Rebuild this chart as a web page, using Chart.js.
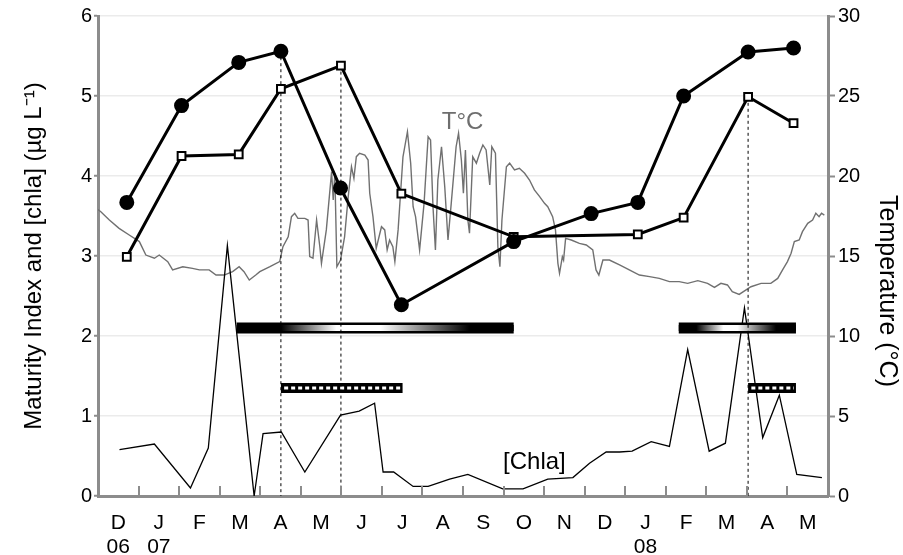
<!DOCTYPE html>
<html>
<head>
<meta charset="utf-8">
<script src="https://cdn.jsdelivr.net/npm/chart.js@4.4.1/dist/chart.umd.min.js"></script>
<style>
  body { margin: 0; background: #fff; }
  #wrap { width: 903px; height: 555px; }
</style>
</head>
<body>
<div id="wrap"><canvas id="myChart"></canvas></div>
<script>
// x values are months counted from 1 Dec 2006
const monthLabels = ['D', 'J', 'F', 'M', 'A', 'M', 'J', 'J', 'A', 'S', 'O', 'N', 'D', 'J', 'F', 'M', 'A', 'M'];
const yearLabels = ['06', '07', '', '', '', '', '', '', '', '', '', '', '', '08', '', '', '', ''];

const circleX = [0.71, 2.06, 3.47, 4.51, 5.98, 7.48, 10.25, 12.16, 13.31, 14.44, 16.03, 17.15];
const circleY = [3.67, 4.88, 5.42, 5.56, 3.85, 2.39, 3.18, 3.53, 3.67, 5.00, 5.55, 5.60];

const squareX = [0.71, 2.06, 3.47, 4.51, 5.99, 7.48, 10.25, 13.31, 14.44, 16.03, 17.15];
const squareY = [2.99, 4.25, 4.27, 5.09, 5.38, 3.78, 3.24, 3.27, 3.48, 4.99, 4.66];

const chlaX = [0.53, 1.39, 2.28, 2.72, 3.19, 3.85, 4.07, 4.52, 5.10, 5.98, 6.44, 6.82, 7.03, 7.29, 7.77, 8.14,
  8.67, 9.12, 9.98, 10.48, 11.09, 11.71, 12.12, 12.53, 12.86, 13.17, 13.64, 14.09, 14.54, 15.07, 15.47, 15.94,
  16.39, 16.80, 17.23, 17.85];
const chlaY = [0.58, 0.65, 0.10, 0.60, 3.13, 0.00, 0.78, 0.80, 0.30, 1.01, 1.06, 1.16, 0.30, 0.30, 0.12, 0.12,
  0.21, 0.27, 0.09, 0.09, 0.21, 0.23, 0.41, 0.55, 0.55, 0.56, 0.68, 0.62, 1.83, 0.56, 0.66, 2.35,
  0.73, 1.26, 0.27, 0.23];

const tempX = [0.00, 0.07, 0.28, 0.52, 0.77, 1.02, 1.18, 1.39, 1.51, 1.72, 1.84, 2.09, 2.33, 2.50, 2.74, 2.91,
  3.11, 3.32, 3.48, 3.60, 3.73, 3.89, 3.99, 4.24, 4.48, 4.56, 4.69, 4.77, 4.85, 4.93, 5.10, 5.18,
  5.22, 5.30, 5.39, 5.47, 5.51, 5.63, 5.76, 5.80, 5.84, 5.89, 5.98, 6.08, 6.17, 6.25, 6.31, 6.37,
  6.45, 6.58, 6.66, 6.70, 6.78, 6.86, 6.99, 7.07, 7.13, 7.19, 7.27, 7.32, 7.40, 7.52, 7.63, 7.71,
  7.77, 7.83, 7.93, 8.04, 8.14, 8.20, 8.26, 8.32, 8.38, 8.47, 8.55, 8.63, 8.71, 8.83, 8.89, 8.96,
  9.01, 9.06, 9.12, 9.16, 9.24, 9.33, 9.41, 9.49, 9.57, 9.66, 9.71, 9.80, 9.86, 9.91, 9.96, 10.07,
  10.15, 10.27, 10.39, 10.52, 10.64, 10.76, 10.89, 11.01, 11.09, 11.21, 11.28, 11.34, 11.38, 11.45, 11.48, 11.53,
  11.67, 11.87, 12.04, 12.20, 12.28, 12.35, 12.45, 12.61, 12.86, 13.10, 13.35, 13.60, 13.84, 14.09, 14.33, 14.54,
  14.79, 15.03, 15.20, 15.36, 15.52, 15.64, 15.81, 15.98, 16.10, 16.35, 16.59, 16.76, 16.88, 17.00, 17.09, 17.17,
  17.29, 17.37, 17.50, 17.62, 17.70, 17.78, 17.84, 17.91];
const tempY = [17.90, 17.77, 17.25, 16.73, 16.31, 15.90, 15.06, 14.86, 15.06, 14.65, 14.13, 14.33, 14.23, 14.13, 14.13, 13.81,
  13.81, 14.02, 14.33, 14.02, 13.50, 13.81, 14.02, 14.33, 14.65, 15.58, 16.20, 17.46, 17.67, 17.35, 17.35, 17.25,
  14.96, 14.86, 17.25, 15.58, 14.54, 16.63, 20.27, 18.50, 20.17, 14.33, 14.75, 16.20, 18.71, 20.58, 19.85, 21.21,
  21.42, 21.31, 21.00, 18.92, 17.46, 15.48, 16.83, 16.63, 15.38, 16.00, 15.58, 14.65, 16.63, 21.20, 22.77, 20.80,
  18.08, 17.46, 15.38, 18.29, 22.46, 22.25, 18.08, 15.38, 19.75, 21.83, 19.33, 16.00, 18.29, 21.83, 22.67, 21.00,
  18.92, 21.63, 17.25, 16.42, 21.20, 20.80, 21.42, 21.94, 21.63, 19.44, 21.83, 21.42, 15.58, 14.33, 17.25, 20.58,
  20.80, 20.38, 20.48, 20.17, 19.75, 19.13, 18.71, 18.29, 18.08, 17.46, 16.63, 14.54, 13.92, 14.96, 14.75, 16.10,
  16.00, 15.79, 15.69, 15.38, 14.13, 13.81, 14.75, 14.75, 14.44, 14.13, 13.81, 13.71, 13.60, 13.40, 13.40, 13.29,
  13.46, 13.29, 13.04, 13.29, 13.19, 12.77, 12.60, 12.88, 13.08, 13.29, 13.29, 13.60, 14.13, 14.65, 15.17, 15.90,
  16.00, 16.52, 17.04, 17.25, 17.67, 17.46, 17.67, 17.56];

// horizontal period bars
const shadedStart = [3.42, 14.32];
const shadedEnd = [10.25, 17.21];
const shadedLevel = 2.1;
const dottedStart = [4.51, 16.03];
const dottedEnd = [7.51, 17.21];
const dottedLevel = 1.35;

// vertical dashed markers
const dashX = [4.51, 5.99, 16.03];
const dashTop = [5.56, 5.38, 4.99];

function pts(xs, ys) {
  return xs.map((x, i) => ({ x: x, y: ys[i] }));
}

function tubeGradient(ctx, a, b, stops) {
  const chart = ctx.chart;
  if (!chart.chartArea) return '#000';
  const xs = chart.scales.x;
  const g = chart.ctx.createLinearGradient(xs.getPixelForValue(a), 0, xs.getPixelForValue(b), 0);
  stops.forEach(s => g.addColorStop(s[0], s[1]));
  return g;
}
const stops1 = [[0, '#000'], [0.16, '#000'], [0.36, '#fff'], [0.52, '#fff'], [0.84, '#000'], [1, '#000']];
const stops2 = [[0, '#000'], [0.15, '#000'], [0.38, '#fff'], [0.5, '#fff'], [0.83, '#000'], [1, '#000']];

const datasets = [];
datasets.push({
  data: pts(circleX, circleY), borderColor: '#000', backgroundColor: '#000', borderWidth: 3,
  pointRadius: 6, pointStyle: 'circle', yAxisID: 'y', order: 0
});
datasets.push({
  data: pts(squareX, squareY), borderColor: '#000', backgroundColor: '#fff', borderWidth: 3,
  pointRadius: 5.5, pointBorderWidth: 2, pointStyle: 'rect', yAxisID: 'y', order: 1
});
dashX.forEach((x, i) => {
  datasets.push({
    data: [{ x: x, y: dashTop[i] }, { x: x, y: 0 }], borderColor: '#000', borderWidth: 1,
    borderDash: [3, 3], pointRadius: 0, yAxisID: 'y', order: 2
  });
});
shadedStart.forEach((s, i) => {
  datasets.push({
    data: [{ x: s, y: shadedLevel }, { x: shadedEnd[i], y: shadedLevel }], borderColor: '#000',
    borderWidth: 11, borderCapStyle: 'butt', pointRadius: 0, yAxisID: 'y', order: 4
  });
  datasets.push({
    data: [{ x: s, y: shadedLevel }, { x: shadedEnd[i], y: shadedLevel }],
    borderColor: (ctx) => tubeGradient(ctx, s, shadedEnd[i], i === 0 ? stops1 : stops2),
    borderWidth: 6, borderCapStyle: 'butt', pointRadius: 0, yAxisID: 'y', order: 3
  });
});
dottedStart.forEach((s, i) => {
  datasets.push({
    data: [{ x: s, y: dottedLevel }, { x: dottedEnd[i], y: dottedLevel }], borderColor: '#000',
    borderWidth: 10, borderCapStyle: 'butt', pointRadius: 0, yAxisID: 'y', order: 4
  });
  datasets.push({
    data: [{ x: s + 0.08, y: dottedLevel }, { x: dottedEnd[i] - 0.05, y: dottedLevel }], borderColor: '#fff',
    borderWidth: 3, borderDash: [4, 3], borderCapStyle: 'butt', pointRadius: 0, yAxisID: 'y', order: 3
  });
});
datasets.push({
  data: pts(chlaX, chlaY), borderColor: '#000', borderWidth: 1.3, pointRadius: 0, yAxisID: 'y', order: 5
});
datasets.push({
  data: pts(tempX, tempY), borderColor: '#707070', borderWidth: 1.4, pointRadius: 0, yAxisID: 'y2', order: 6
});

const textLabels = [
  { text: 'T°C', x: 8.99, y: 4.675, color: '#6e6e6e' },
  { text: '[Chla]', x: 10.76, y: 0.425, color: '#000' }
];

const extras = {
  id: 'extras',
  afterDatasetsDraw(chart) {
    const c = chart.ctx, xs = chart.scales.x, ys = chart.scales.y;
    const area = chart.chartArea;
    c.save();
    c.strokeStyle = '#8c8c8c';
    c.lineWidth = 2;
    c.beginPath();
    for (let m = 1; m < monthLabels.length; m++) {
      const px = Math.round(xs.getPixelForValue(m));
      c.moveTo(px, area.bottom);
      c.lineTo(px, area.bottom - 10);
    }
    c.stroke();
    c.font = '24px "Liberation Sans", Arial, sans-serif';
    c.textAlign = 'center';
    c.textBaseline = 'middle';
    textLabels.forEach(t => {
      c.fillStyle = t.color;
      c.fillText(t.text, xs.getPixelForValue(t.x), ys.getPixelForValue(t.y));
    });
    // right axis title, sits a little below the middle
    c.font = '25px "Liberation Sans", Arial, sans-serif';
    c.fillStyle = '#000';
    c.translate(chart.width - 16, (area.top + area.bottom) / 2 + 35);
    c.rotate(Math.PI / 2);
    c.fillText('Temperature (°C)', 0, 0);
    c.restore();
  }
};

Chart.defaults.font.family = '"Liberation Sans", Arial, sans-serif';
Chart.defaults.color = '#000';

const ctx = document.getElementById('myChart').getContext('2d');
const myChart = new Chart(ctx, {
  type: 'line',
  data: { datasets: datasets },
  plugins: [extras],
  options: {
    responsive: true,
    maintainAspectRatio: false,
    animation: false,
    layout: { padding: { top: 16, left: 0, right: 0, bottom: 0 } },
    plugins: { legend: { display: false }, tooltip: { enabled: false } },
    scales: {
      x: {
        type: 'linear', min: 0, max: 18,
        afterBuildTicks: (scale) => {
          scale.ticks = monthLabels.map((m, i) => ({ value: i + 0.5 }));
        },
        afterFit: (scale) => { scale.height = 59; },
        grid: { display: false },
        border: { color: '#8c8c8c', width: 3 },
        ticks: {
          autoSkip: false, maxRotation: 0, padding: 7,
          font: { size: 21, lineHeight: 1.15 }, color: '#000',
          callback: (v, i) => yearLabels[i] ? [monthLabels[i], yearLabels[i]] : monthLabels[i]
        }
      },
      y: {
        position: 'left', min: 0, max: 6,
        afterFit: (scale) => { scale.width = 98; },
        grid: { color: '#ebebeb', lineWidth: 1.5, tickColor: '#8c8c8c', tickLength: 4, tickWidth: 2 },
        border: { color: '#8c8c8c', width: 3 },
        ticks: { stepSize: 1, font: { size: 20 }, color: '#000', padding: 2 },
        title: {
          display: true, text: 'Maturity Index and [chla] (µg L⁻¹)',
          font: { size: 24 }, color: '#000', padding: { top: 20, bottom: 0 }
        }
      },
      y2: {
        position: 'right', min: 0, max: 30,
        afterFit: (scale) => { scale.width = 75; },
        grid: { drawOnChartArea: false, tickColor: '#8c8c8c', tickLength: 7, tickWidth: 2 },
        border: { color: '#8c8c8c', width: 3 },
        ticks: { stepSize: 5, font: { size: 20 }, color: '#000', padding: 3 }
      }
    }
  }
});
</script>
</body>
</html>
